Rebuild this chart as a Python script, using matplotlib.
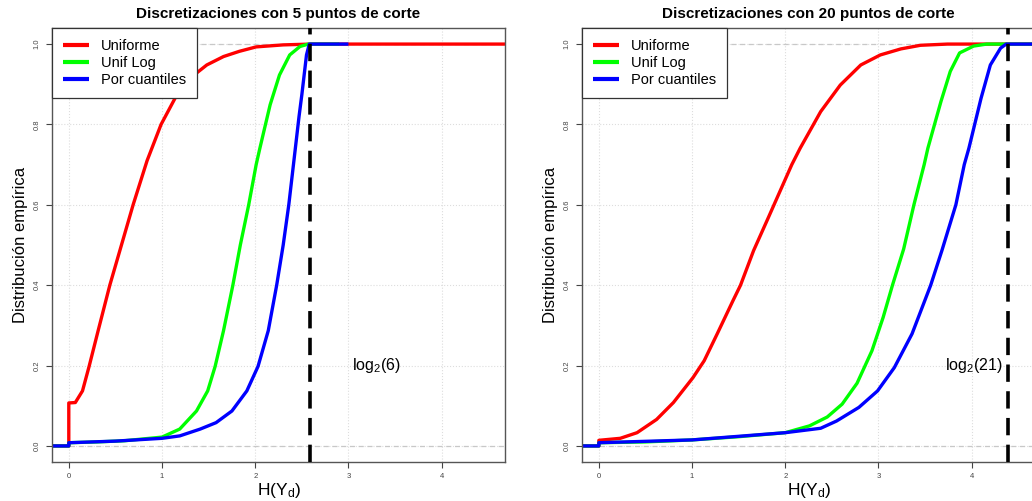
import math
import matplotlib
matplotlib.use("Agg")
import matplotlib.pyplot as plt

plt.rcParams['font.family'] = ['Liberation Sans', 'DejaVu Sans']
plt.rcParams['mathtext.fontset'] = 'custom'
plt.rcParams['mathtext.rm'] = 'Liberation Sans'
plt.rcParams['mathtext.it'] = 'Liberation Sans:italic'

# (0) Data read off the picture: empirical CDF of H(Y_d), (x, F) pairs
# --- 5 cut points
unif5_x = [-0.2, 0, 0, 0.07, 0.147, 0.218, 0.315, 0.44, 0.565, 0.69, 0.84, 0.99, 1.16, 1.30, 1.48, 1.66, 1.83, 2.01, 2.30, 2.6, 4.8]
unif5_y = [0, 0, 0.107, 0.108, 0.137, 0.198, 0.287, 0.40, 0.50, 0.60, 0.71, 0.80, 0.874, 0.915, 0.948, 0.969, 0.982, 0.993, 0.998, 1.0, 1.0]
log5_x = [-0.2, 0, 0, 0.3, 0.6, 1.0, 1.19, 1.37, 1.49, 1.57, 1.66, 1.76, 1.84, 1.93, 2.01, 2.05, 2.11, 2.16, 2.26, 2.37, 2.48, 2.57, 2.9]
log5_y = [0, 0, 0.008, 0.01, 0.013, 0.022, 0.042, 0.087, 0.137, 0.198, 0.287, 0.40, 0.50, 0.60, 0.70, 0.741, 0.80, 0.849, 0.923, 0.973, 0.994, 1.0, 1.0]
cuant5_x = [-0.2, 0, 0, 0.5, 1.0, 1.19, 1.41, 1.58, 1.75, 1.91, 2.03, 2.14, 2.23, 2.30, 2.36, 2.41, 2.44, 2.47, 2.50, 2.55, 2.58, 3.0]
cuant5_y = [0, 0, 0.008, 0.012, 0.019, 0.025, 0.042, 0.058, 0.087, 0.137, 0.198, 0.287, 0.40, 0.50, 0.60, 0.70, 0.76, 0.82, 0.874, 0.973, 1.0, 1.0]

# --- 20 cut points
unif20_x = [-0.2, 0, 0, 0.23, 0.41, 0.62, 0.80, 1.01, 1.13, 1.27, 1.44, 1.52, 1.66, 1.82, 1.90, 2.07, 2.16, 2.38, 2.59, 2.81, 3.02, 3.24, 3.45, 3.74, 4.8]
unif20_y = [0, 0, 0.014, 0.019, 0.033, 0.066, 0.108, 0.170, 0.212, 0.279, 0.362, 0.40, 0.486, 0.569, 0.611, 0.70, 0.741, 0.832, 0.898, 0.948, 0.973, 0.988, 0.997, 1.0, 1.0]
log20_x = [-0.2, 0, 0, 0.5, 1.0, 1.5, 2.0, 2.26, 2.45, 2.61, 2.77, 2.93, 3.05, 3.15, 3.27, 3.38, 3.49, 3.53, 3.67, 3.77, 3.87, 4.02, 4.16, 4.8]
log20_y = [0, 0, 0.008, 0.01, 0.015, 0.023, 0.033, 0.05, 0.072, 0.104, 0.156, 0.237, 0.32, 0.40, 0.49, 0.60, 0.70, 0.741, 0.857, 0.932, 0.978, 0.995, 1.0, 1.0]
cuant20_x = [-0.2, 0, 0, 1.0, 2.0, 2.38, 2.55, 2.79, 2.99, 3.17, 3.36, 3.56, 3.68, 3.83, 3.92, 3.97, 4.10, 4.20, 4.31, 4.37, 4.8]
cuant20_y = [0, 0, 0.008, 0.015, 0.033, 0.044, 0.062, 0.096, 0.137, 0.195, 0.279, 0.40, 0.486, 0.60, 0.70, 0.741, 0.865, 0.948, 0.99, 1.0, 1.0]

titles = ['Discretizaciones con 5 puntos de corte', 'Discretizaciones con 20 puntos de corte']
n_bins = [6, 21]
labels = ['Uniforme', 'Unif Log', 'Por cuantiles']
colors = ['#ff0000', '#00ff00', '#0000ff']
x_ticks = [0, 1, 2, 3, 4]
y_ticks = [0.0, 0.2, 0.4, 0.6, 0.8, 1.0]

panels = [
    [(unif5_x, unif5_y), (log5_x, log5_y), (cuant5_x, cuant5_y)],
    [(unif20_x, unif20_y), (log20_x, log20_y), (cuant20_x, cuant20_y)],
]
text_x = [3.30, 4.02]

fig = plt.figure(figsize=(10.32, 5.01), dpi=100)
w, h = 0.439, 0.8663
axes = [fig.add_axes([0.0504, 0.0778, w, h]), fig.add_axes([0.564, 0.0778, w, h])]

for ax, curves, title, nb, tx in zip(axes, panels, titles, n_bins, text_x):
    ax.set_xlim(-0.18, 4.68)
    ax.set_ylim(-0.04, 1.04)

    # grid + reference lines
    for xv in x_ticks:
        ax.axvline(xv, color='#dddddd', lw=0.8, ls=':', zorder=0)
    for yv in y_ticks:
        ax.axhline(yv, color='#dddddd', lw=0.8, ls=':', zorder=0)
    ax.axhline(0, color='#c8c8c8', lw=0.9, ls=(0, (4, 3)), zorder=0.5)
    ax.axhline(1, color='#c8c8c8', lw=0.9, ls=(0, (4, 3)), zorder=0.5)

    for (cx, cy), lab, col in zip(curves, labels, colors):
        ax.plot(cx, cy, color=col, lw=2.4, label=lab, solid_capstyle='butt')

    ax.axvline(math.log2(nb), color='black', lw=2.6, ls=(0, (4.8, 2.6)), zorder=5)
    ax.text(tx, 0.2, r'log$_2$(%d)' % nb, fontsize=11.5, ha='center', va='center')

    ax.set_xticks(x_ticks)
    ax.set_yticks(y_ticks)
    ax.set_yticklabels(['%.1f' % v for v in y_ticks], rotation=90, va='center')
    ax.tick_params(labelsize=5.5, colors='#444444', length=4, width=0.8, pad=4)
    for sp in ax.spines.values():
        sp.set_color('#555555')
        sp.set_linewidth(1.0)

    ax.set_title(title, fontsize=11, fontweight='bold', pad=7)
    ax.set_ylabel('Distribución empírica', fontsize=12)
    ax.yaxis.set_label_coords(-0.053, 0.5)
    ax.set_xlabel(r'H(Y$_{\rm d}$)', fontsize=12.5)
    ax.xaxis.set_label_coords(0.5, -0.044)

    leg = ax.legend(loc='upper left', borderaxespad=0, fancybox=False, framealpha=1,
                    edgecolor='#333333', fontsize=10.5, handlelength=1.8,
                    handletextpad=0.8, labelspacing=0.2, borderpad=0.75)
    leg.get_frame().set_linewidth(0.9)
    for ln in leg.get_lines():
        ln.set_linewidth(3)

fig.savefig('out.png', dpi=100)
